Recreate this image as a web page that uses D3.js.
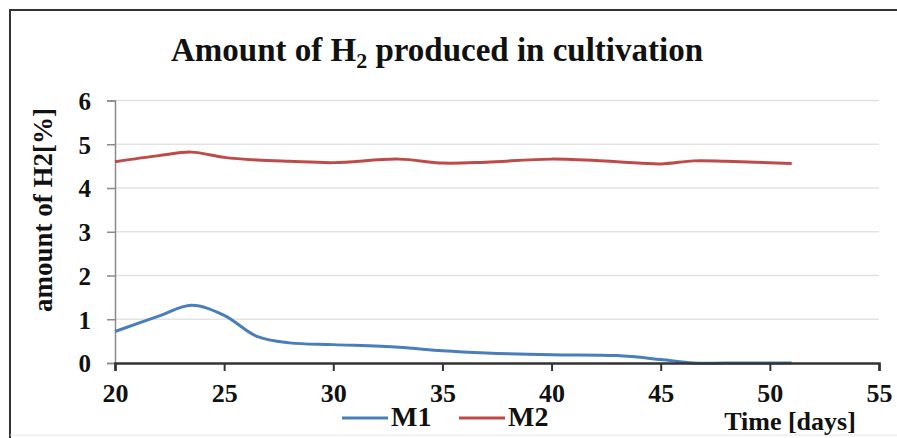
<!DOCTYPE html>
<html><head><meta charset="utf-8">
<script src="https://cdn.jsdelivr.net/npm/d3@7"></script>
<style>body{margin:0;background:#fff}svg{display:block}text{font-family:"Liberation Serif","Times New Roman",serif;font-weight:bold;fill:#111}</style>
</head><body><svg id="c" width="897" height="438"></svg>
<script>
const days = [20, 22, 23.5, 25, 26.5, 28, 30, 33, 35, 37, 40, 43, 45, 46.5, 48, 51];
const m1 = [0.72, 1.07, 1.32, 1.09, 0.61, 0.46, 0.42, 0.36, 0.28, 0.23, 0.19, 0.17, 0.08, 0.0, 0.0, 0.0];
const m2 = [4.60, 4.74, 4.82, 4.70, 4.64, 4.61, 4.58, 4.66, 4.57, 4.59, 4.66, 4.60, 4.55, 4.62, 4.61, 4.56];
const xTicks = [20, 25, 30, 35, 40, 45, 50, 55];
const yTicks = [0, 1, 2, 3, 4, 5, 6];
const seriesNames = ["M1", "M2"];
const colors = ["#4a7ebb", "#be4b48"];
const title = "Amount  of H";
const yTitle = "amount of H2[%]";
const xTitle = "Time [days]";

const FONT = '"Liberation Serif","Times New Roman",serif';
const svg = d3.select("#c");
const x = d3.scaleLinear().domain([20, 55]).range([115, 879]);
const y = d3.scaleLinear().domain([0, 6]).range([363, 100.5]);

// frame
svg.append("path").attr("d", "M10,438 L10,10 L897,10").attr("fill", "none").attr("stroke", "#333").attr("stroke-width", 2);
svg.append("line").attr("x1", 10).attr("x2", 897).attr("y1", 435).attr("y2", 435).attr("stroke", "#e6e6e6").attr("stroke-width", 1);

// grid
svg.append("g").selectAll("line").data(yTicks.filter(d => d > 0)).join("line")
  .attr("x1", x(20)).attr("x2", x(55)).attr("y1", d => y(d)).attr("y2", d => y(d))
  .attr("stroke", "#e3e3e3").attr("stroke-width", 1.5);

// y axis
const ya = svg.append("g").attr("transform", `translate(${x(20)},0)`)
  .call(d3.axisLeft(y).tickValues(yTicks).tickSize(8).tickPadding(16).tickFormat(d3.format("d")))
  .attr("font-family", FONT).attr("font-size", 25).attr("font-weight", "bold");
ya.select(".domain").attr("stroke", "#8a8a8a").attr("stroke-width", 1.5);
ya.selectAll(".tick line").attr("stroke", "#8a8a8a").attr("stroke-width", 1.5);
ya.selectAll(".tick text").attr("fill", "#111").attr("dy", "0.35em");

// lines
const line = d3.line().x((d, i) => x(days[i])).y(d => y(d)).curve(d3.curveCatmullRom.alpha(0.5));
[m1, m2].forEach((s, k) => {
  svg.append("path").datum(s).attr("d", line).attr("fill", "none").attr("stroke", colors[k]).attr("stroke-width", 3);
});

// x axis
const xa = svg.append("g").attr("transform", `translate(0,${y(0)})`)
  .call(d3.axisBottom(x).tickValues(xTicks).tickSize(8).tickPadding(13).tickFormat(d3.format("d")))
  .attr("font-family", FONT).attr("font-size", 26).attr("font-weight", "bold");
xa.select(".domain").attr("stroke", "#333").attr("stroke-width", 2.5);
xa.selectAll(".tick line").attr("stroke", "#333").attr("stroke-width", 2);
xa.selectAll(".tick text").attr("fill", "#111");

// title
const t = svg.append("text").attr("x", 437).attr("y", 61).attr("text-anchor", "middle").attr("font-size", 33);
t.append("tspan").text(title);
t.append("tspan").attr("font-size", 22).attr("dy", 7).text("2");
t.append("tspan").attr("dy", -7).text(" produced in cultivation");

// y title
svg.append("text").attr("transform", "translate(52,210) rotate(-90)").attr("text-anchor", "middle").attr("font-size", 27).text(yTitle);

// x title
svg.append("text").attr("x", 790).attr("y", 430).attr("text-anchor", "middle").attr("font-size", 26).text(xTitle);

// legend
const lg = svg.append("g");
const lx = [342, 459];
seriesNames.forEach((n, k) => {
  lg.append("line").attr("x1", lx[k]).attr("x2", lx[k] + 46).attr("y1", 418).attr("y2", 418).attr("stroke", colors[k]).attr("stroke-width", 3);
  lg.append("text").attr("x", lx[k] + 49).attr("y", 426).attr("font-size", 28).text(n);
});
</script></body></html>
